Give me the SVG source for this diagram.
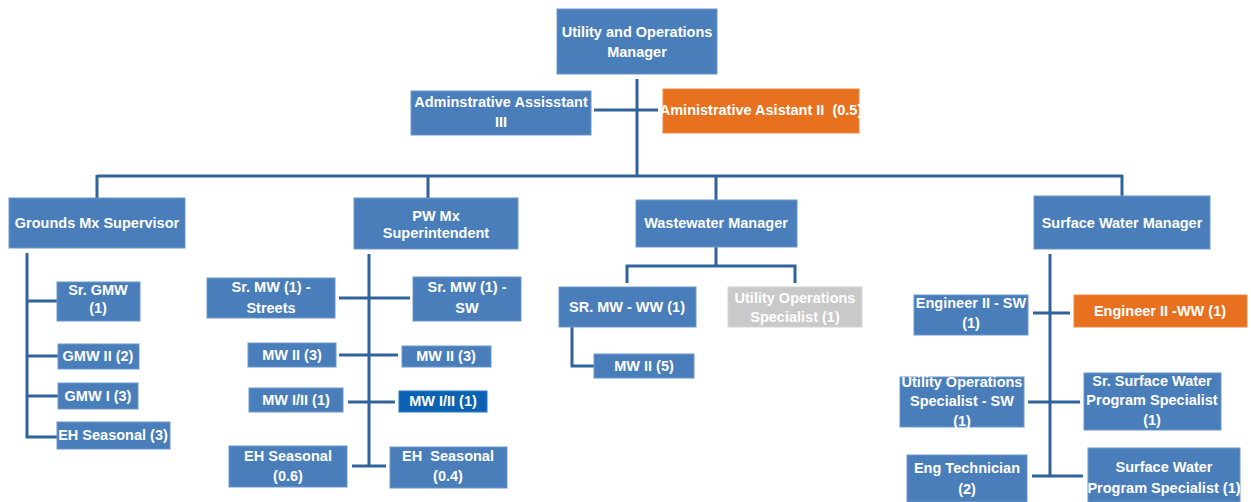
<svg xmlns="http://www.w3.org/2000/svg" width="1251" height="502" viewBox="0 0 1251 502">
<style>
.n{fill:#4a7ebb;stroke:#6b97cc;stroke-width:1}
.o{fill:#e8711f;stroke:#f08a45;stroke-width:1}
.g{fill:#c9c9c9;stroke:#d6d6d6;stroke-width:1}
.d{fill:#0b62b3;stroke:#2a79c2;stroke-width:1}
text{font-family:"Liberation Sans",Arial,sans-serif;font-weight:bold;font-size:14.5px;fill:#fff;text-anchor:middle}
.c path{fill:none;stroke:#30639c;stroke-width:3}
</style>
<rect width="1251" height="502" fill="#fff"/>
<g class="c" id="connectors">
<path d="M637 79V176"/>
<path d="M594 110H658"/>
<path d="M97 176H1123"/>
<path d="M97 175V198M428 175V198M716 175V200M1122 175V196"/>
<path d="M27 253V437H57M27 301H57M27 356H58M27 396H58"/>
<path d="M369 254V467M339 298H410M339 355H398M348 402H395M352 466H386"/>
<path d="M716 247V266M627 283V266H795V283"/>
<path d="M572 327V366H594"/>
<path d="M1050 254V476M1033 313H1070M1028 402H1080M1032 476H1083"/>
</g>
<g id="n-uom"><rect class="n" x="557" y="9" width="160" height="65"/><text x="637" y="37">Utility and Operations</text><text x="637" y="57">Manager</text></g>
<g id="n-aa3"><rect class="n" x="411" y="91" width="180" height="44"/><text x="501" y="107">Adminstrative Assisstant</text><text x="501" y="127">III</text></g>
<g id="n-aa2"><rect class="o" x="663" y="89" width="196" height="44"/><text x="761" y="115" xml:space="preserve">Aministrative Asistant II  (0.5)</text></g>
<g id="n-gms"><rect class="n" x="9" y="198" width="176" height="50"/><text x="97" y="228">Grounds Mx Supervisor</text></g>
<g id="n-pws"><rect class="n" x="354" y="198" width="164" height="51"/><text x="436" y="221">PW Mx</text><text x="436" y="238">Superintendent</text></g>
<g id="n-wwm"><rect class="n" x="636" y="200" width="161" height="47"/><text x="716" y="228">Wastewater Manager</text></g>
<g id="n-swm"><rect class="n" x="1034" y="196" width="176" height="53"/><text x="1122" y="228">Surface Water Manager</text></g>
<g id="n-sgmw"><rect class="n" x="57" y="282" width="83" height="39"/><text x="98" y="295">Sr. GMW</text><text x="98" y="313">(1)</text></g>
<g id="n-gmw2"><rect class="n" x="58" y="344" width="81" height="25"/><text x="98" y="361">GMW II (2)</text></g>
<g id="n-gmw1"><rect class="n" x="58" y="383" width="80" height="26"/><text x="98" y="401">GMW I (3)</text></g>
<g id="n-eh3"><rect class="n" x="57" y="422" width="113" height="27"/><text x="113" y="440">EH Seasonal (3)</text></g>
<g id="n-smws"><rect class="n" x="207" y="278" width="128" height="40"/><text x="271" y="292">Sr. MW (1) -</text><text x="271" y="313">Streets</text></g>
<g id="n-smwsw"><rect class="n" x="413" y="277" width="108" height="44"/><text x="467" y="292">Sr. MW (1) -</text><text x="467" y="313">SW</text></g>
<g id="n-mw2l"><rect class="n" x="248" y="343" width="88" height="24"/><text x="292" y="360">MW II (3)</text></g>
<g id="n-mw2r"><rect class="n" x="402" y="346" width="89" height="21"/><text x="446" y="361">MW II (3)</text></g>
<g id="n-mw12l"><rect class="n" x="249" y="388" width="94" height="24"/><text x="296" y="405">MW I/II (1)</text></g>
<g id="n-mw12r"><rect class="d" x="399" y="391" width="88" height="21"/><text x="443" y="406">MW I/II (1)</text></g>
<g id="n-eh06"><rect class="n" x="229" y="446" width="118" height="41"/><text x="288" y="461">EH Seasonal</text><text x="288" y="481">(0.6)</text></g>
<g id="n-eh04"><rect class="n" x="390" y="447" width="117" height="41"/><text x="448" y="461" xml:space="preserve">EH  Seasonal</text><text x="448" y="481">(0.4)</text></g>
<g id="n-srww"><rect class="n" x="559" y="287" width="137" height="40"/><text x="627" y="312">SR. MW - WW (1)</text></g>
<g id="n-uos"><rect class="g" x="728" y="287" width="134" height="40"/><text x="795" y="303">Utility Operations</text><text x="795" y="322">Specialist (1)</text></g>
<g id="n-mw5"><rect class="n" x="594" y="354" width="100" height="24"/><text x="644" y="371">MW II (5)</text></g>
<g id="n-e2sw"><rect class="n" x="914" y="295" width="114" height="40"/><text x="971" y="308">Engineer II - SW</text><text x="971" y="328">(1)</text></g>
<g id="n-e2ww"><rect class="o" x="1074" y="295" width="173" height="32"/><text x="1160" y="316">Engineer II -WW (1)</text></g>
<g id="n-uossw"><rect class="n" x="900" y="377" width="124" height="50"/><text x="962" y="387">Utility Operations</text><text x="962" y="406">Specialist - SW</text><text x="962" y="426">(1)</text></g>
<g id="n-sswps"><rect class="n" x="1084" y="373" width="137" height="57"/><text x="1152" y="386">Sr. Surface Water</text><text x="1152" y="405">Program Specialist</text><text x="1152" y="425">(1)</text></g>
<g id="n-et"><rect class="n" x="907" y="455" width="120" height="47"/><text x="967" y="473">Eng Technician</text><text x="967" y="494">(2)</text></g>
<g id="n-swps"><rect class="n" x="1088" y="448" width="152" height="54"/><text x="1164" y="472">Surface Water</text><text x="1164" y="493">Program Specialist (1)</text></g>
</svg>
